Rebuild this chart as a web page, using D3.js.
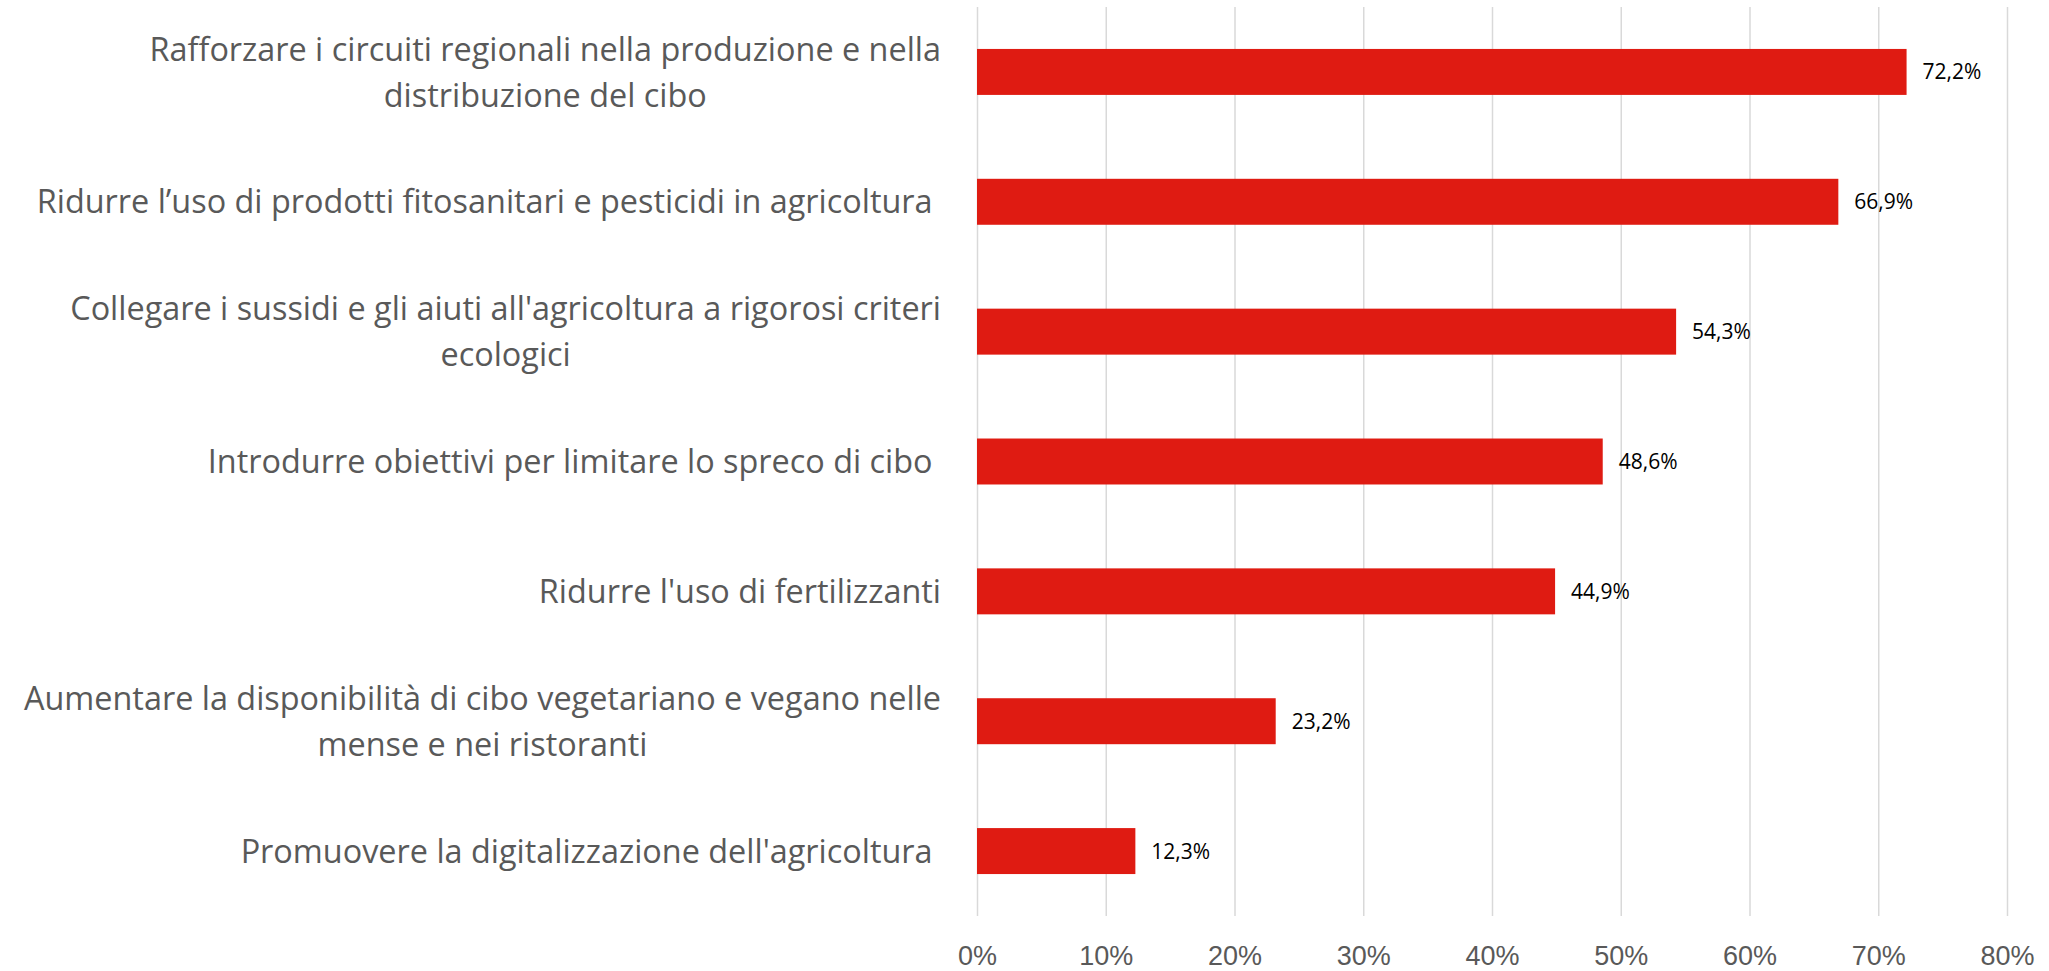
<!DOCTYPE html>
<meta charset="utf-8">
<style>
body { margin: 0; background: #fff; }
svg { font-family: "Open Sans", sans-serif; }
.grid line { stroke: #d9d9d9; stroke-width: 1.5px; }
.grid path { display: none; }
.xaxis text { fill: #595959; font-size: 27px; }
.cat { fill: #595959; font-size: 32.4px; white-space: pre; }
.val { fill: #000; font-size: 21px; }
</style>
<svg width="2049" height="971"></svg>
<script src="https://cdn.jsdelivr.net/npm/d3@7"></script>
<script>

// categories (line breaks as in the original), top to bottom
var categories = [
  "Rafforzare i circuiti regionali nella produzione e nella\ndistribuzione del cibo",
  "Ridurre l\u2019uso di prodotti fitosanitari e pesticidi in agricoltura ",
  "Collegare i sussidi e gli aiuti all'agricoltura a rigorosi criteri\necologici",
  "Introdurre obiettivi per limitare lo spreco di cibo ",
  "Ridurre l'uso di fertilizzanti",
  "Aumentare la disponibilit\u00e0 di cibo vegetariano e vegano nelle\nmense e nei ristoranti",
  "Promuovere la digitalizzazione dell'agricoltura "
];
var values = [72.2, 66.9, 54.3, 48.6, 44.9, 23.2, 12.3];
var ticks = [0, 10, 20, 30, 40, 50, 60, 70, 80];

var svg = d3.select("svg");
var margin = {top: 7, right: 42, bottom: 55, left: 977};
var width = +svg.attr("width"),
    height = +svg.attr("height");

var x = d3.scaleLinear()
    .domain([0, 80])
    .range([margin.left, width - margin.right]);

var y = d3.scaleBand()
    .domain(categories)
    .range([margin.top, height - margin.bottom])
    .paddingInner(0.646)
    .paddingOuter(0.323);

var fmt = function(v) { return d3.format(".1f")(v).replace(".", ",") + "%"; };

// vertical gridlines
svg.append("g")
    .attr("class", "grid")
    .attr("transform", "translate(0," + margin.top + ")")
    .call(d3.axisBottom(x).tickValues(ticks).tickSize(height - margin.bottom - margin.top).tickFormat(""));

// tick labels
svg.append("g")
    .attr("class", "xaxis")
    .attr("transform", "translate(0," + (height - margin.bottom) + ")")
    .call(d3.axisBottom(x).tickValues(ticks).tickSize(0).tickPadding(30).tickFormat(function(d) { return d + "%"; }))
    .call(function(g) { g.select(".domain").remove(); });

// bars
svg.append("g").selectAll("rect")
    .data(values)
  .enter().append("rect")
    .attr("x", x(0))
    .attr("y", function(d, i) { return y(categories[i]); })
    .attr("width", function(d) { return x(d) - x(0); })
    .attr("height", y.bandwidth())
    .attr("fill", "#df1b12");

// value labels
svg.append("g").selectAll("text")
    .data(values)
  .enter().append("text")
    .attr("class", "val")
    .attr("x", function(d) { return x(d) + 16; })
    .attr("y", function(d, i) { return y(categories[i]) + y.bandwidth() / 2; })
    .attr("dy", "0.36em")
    .text(fmt);

// category labels: block right-aligned to the axis, lines centred within the block
var labelRight = 941, lineH = 46;
var lab = svg.append("g").selectAll("g")
    .data(categories)
  .enter().append("g");

lab.each(function(c) {
  var g = d3.select(this);
  var lines = c.split("\n");
  var cy = y(c) + y.bandwidth() / 2;
  var t = g.selectAll("text")
      .data(lines)
    .enter().append("text")
      .attr("class", "cat")
      .attr("y", function(d, i) { return cy + (i - (lines.length - 1) / 2) * lineH; })
      .attr("dy", "0.36em")
      .text(function(d) { return d; });
  var w = 0;
  t.each(function() { w = Math.max(w, this.getComputedTextLength()); });
  t.attr("text-anchor", "middle").attr("x", labelRight - w / 2);
});

</script>
